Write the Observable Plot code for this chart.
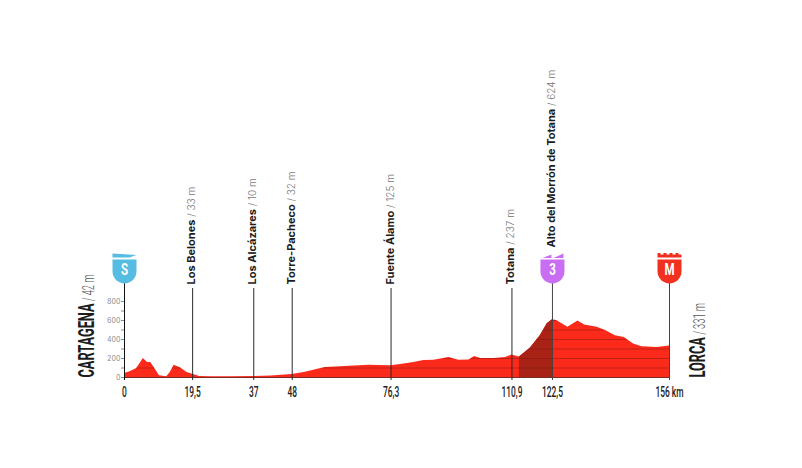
<!DOCTYPE html>
<html><head><meta charset="utf-8">
<style>html,body{margin:0;padding:0;background:#fff}svg{display:block}</style>
<script src="https://cdn.jsdelivr.net/npm/d3@7"></script>
<script src="https://cdn.jsdelivr.net/npm/@observablehq/plot@0.6"></script>
</head><body>
<script>
const kmValues = [0,1.6,3.5,5.4,6.6,7.5,8.5,10,12.1,13.1,14.2,16,17.9,19.5,21.5,25,30,37,42,48,51,53,55,57.5,61.9,65.7,70,76.3,79,82.8,85.7,88.6,92.9,95.7,98.6,100.2,102,105.8,109.1,110.9,113.05,116.2,119,121,122.5,123.7,126.9,129.8,131.7,135.3,137.7,140.5,143.1,145.7,148.2,152.5,156];
const elevations = [42,60,95,200,158,158,105,18,7,53,130,102,53,33,10,7,7,10,16,32,50,65,85,105,112,122,130,125,136,157,178,182,210,182,185,220,200,200,210,237,215,310,440,565,608,600,530,596,553,530,494,440,420,352,324,317,331];
const climbStart = 113.05, climbEnd = 122.5;
const stageNames = ["Los Belones","Los Alcázares","Torre-Pacheco","Fuente Álamo","Totana"];
const stageKm = [19.5,37,48,76.3,110.9];
const stageElev = ["33 m","10 m","32 m","125 m","237 m"];
const summitName = "Alto del Morrón de Totana", summitElev = "624 m", summitKm = 122.5;
const startName = "CARTAGENA", startElev = "42 m", finishName = "LORCA", finishElev = "331 m";
const tickKm = [0,19.5,37,48,76.3,110.9,122.5,156];
const tickLabels = ["0","19,5","37","48","76,3","110,9","122,5","156 km"];
const badgeKm = [0,122.5,156];
const badgeLetters = ["S","3","M"];
const gridLevels = [100,200,300,400,500,600];
const elevTicks = [0,100,200,300,400,500,600,700,800];

const profile = kmValues.map((km,i)=>({km,elev:elevations[i]}));
const contour = [];
for (const level of gridLevels) {
  let from = null;
  for (let i=0;i<profile.length-1;i++){
    const a=profile[i], b=profile[i+1];
    const cross = a.km+(level-a.elev)/(b.elev-a.elev)*(b.km-a.km);
    if (a.elev<level && b.elev>=level) from = cross;
    if (a.elev>=level && b.elev<level && from!==null){contour.push({level,x1:from,x2:cross});from=null;}
  }
  if (from!==null) contour.push({level,x1:from,x2:kmValues[kmValues.length-1]});
}
const shield = (fill,top) => "data:image/svg+xml,"+encodeURIComponent(
 `<svg xmlns="http://www.w3.org/2000/svg" viewBox="0 0 26 32">${top}<path d="M1 7H25V19C25 26 19 31 13 31C7 31 1 26 1 19Z" fill="${fill}"/></svg>`);
const crenel = "M1 0h3v2h3v-2h3v2h3v-2h3v2h3v-2h3v2h3v3H1z";
const badgeImages = [
 shield("#57bce2",`<path d="M1 1L25 2.5L18 5H1Z" fill="#57bce2"/>`),
 shield("#c96df2",`<path d="M3 5.5L12 2V5.5Z M14 5.5L24 1V5.5Z" fill="#c96df2"/>`),
 shield("#f2301f",`<path d="${crenel}" fill="#f2301f"/>`)
];
const badges = badgeKm.map((km,i)=>({km,letter:badgeLetters[i],src:badgeImages[i]}));
const stages = stageNames.map((n,i)=>({km:stageKm[i],name:n,elev:stageElev[i]}));
const ticks = tickKm.map((km,i)=>({km,label:tickLabels[i]}));

const twoPart = (boldSize,lightSize,weightLight,colorLight) => (index,scales,values,dims,ctx,next) => {
  const g = next(index,scales,values,dims,ctx);
  g.querySelectorAll("text").forEach(t=>{
    const [a,b]=t.textContent.split(" / ");
    t.textContent="";
    const s1=document.createElementNS("http://www.w3.org/2000/svg","tspan");
    s1.textContent=a; s1.setAttribute("font-weight","700"); s1.setAttribute("fill","#1c1c1c"); s1.setAttribute("font-size",boldSize);
    const s2=document.createElementNS("http://www.w3.org/2000/svg","tspan");
    s2.textContent=" / "+b; s2.setAttribute("font-weight",weightLight); s2.setAttribute("fill",colorLight); s2.setAttribute("font-size",lightSize);
    t.append(s1,s2);
  });
  return g;
};
const FONT="Inter", COND="Roboto";

const chart = Plot.plot({
  width:802,height:468,
  marginLeft:124,marginRight:133,marginTop:301,marginBottom:91,
  style:{background:"#fff",overflow:"visible"},
  x:{domain:[0,156],axis:null},
  y:{domain:[0,800],axis:null},
  marks:[
    Plot.areaY(profile,{x:"km",y:"elev",fill:"#fb2a1b",curve:"linear"}),
    Plot.areaY(profile.filter(d=>d.km>=climbStart&&d.km<=climbEnd),{x:"km",y:"elev",fill:"#a82316"}),
    Plot.ruleY(contour,{x1:"x1",x2:"x2",y:"level",stroke:"#7a1a10",strokeWidth:0.6,strokeOpacity:0.8}),
    Plot.ruleY([0],{x1:0,x2:156,stroke:"#7d2a22",strokeWidth:1.2}),
    Plot.axisY({ticks:elevTicks,tickFormat:d=>d%200?"":d,tickSize:3,tickPadding:1,fontSize:7,color:"#8a8a8a",fontFamily:FONT,label:null}),
    Plot.ruleX(stages.map(d=>d.km),{y1:-32,y2:937,stroke:"#2b2b2b",strokeWidth:1}),
    Plot.ruleX([summitKm,156],{y1:-32,y2:990,stroke:"#444",strokeWidth:1}),
    Plot.ruleX([0],{y1:-32,y2:990,stroke:"#111",strokeWidth:1}),
    Plot.text(stages,{x:"km",y:0,dx:-1,dy:-93,text:d=>`${d.name} / ${d.elev}`,rotate:-90,textAnchor:"start",fontFamily:FONT,fontSize:11,render:twoPart(11,10,"300","#777")}),
    Plot.text([{km:summitKm}],{x:"km",y:0,dx:-1,dy:-130,text:()=>`${summitName} / ${summitElev}`,rotate:-90,textAnchor:"start",fontFamily:FONT,fontSize:11,render:twoPart(11,10,"300","#777")}),
    Plot.text([0],{x:0,y:0,dx:-38,text:()=>`${startName} / ${startElev}`,rotate:-90,textAnchor:"start",fontFamily:COND,fontSize:22,className:"cond-big",render:twoPart(22,16,"300","#555")}),
    Plot.text([0],{x:156,y:0,dx:28,text:()=>`${finishName} / ${finishElev}`,rotate:-90,textAnchor:"start",fontFamily:COND,fontSize:22,className:"cond-big",render:twoPart(22,16,"300","#555")}),
    Plot.text(ticks,{x:"km",y:0,dy:15,text:"label",fontFamily:COND,fontWeight:500,fontSize:14,fill:"#222",className:"cond-small"}),
    Plot.image(badges,{x:"km",y:0,dy:-109,src:"src",width:26,height:32}),
    Plot.text(badges,{x:"km",y:0,dy:-108,text:"letter",fill:"#fff",fontFamily:COND,fontWeight:700,fontSize:16,className:"cond-letter"})
  ]
});
document.body.append(chart);
const squeeze=(sel,f)=>chart.querySelectorAll(sel+" text").forEach(t=>{
  t.setAttribute("textLength",t.getComputedTextLength()*f);
  t.setAttribute("lengthAdjust","spacingAndGlyphs");
});
squeeze(".cond-big",0.58);
squeeze(".cond-small",0.6);
squeeze(".cond-letter",0.72);
</script>
</body></html>
